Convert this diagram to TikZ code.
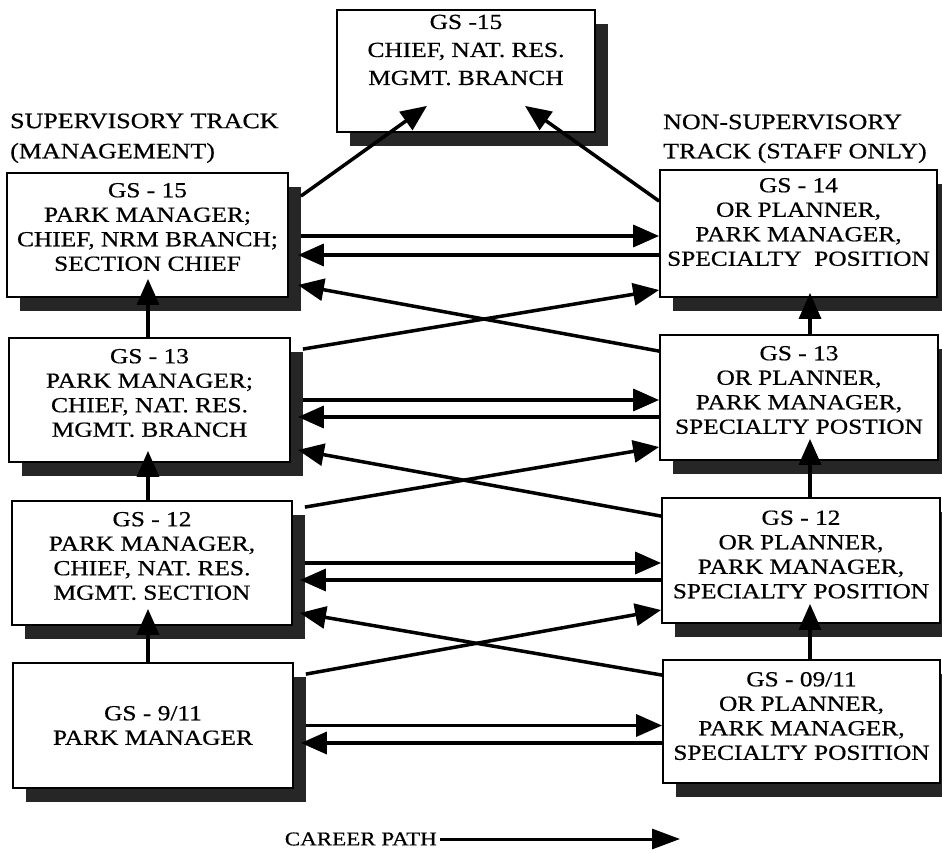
\documentclass[tikz,border=0pt]{standalone}
\usepackage{fontspec}
\setmainfont[FakeStretch=1.18,FakeBold=0.6]{Liberation Serif}
\usetikzlibrary{arrows.meta,calc,shadows}
\begin{document}
\begin{tikzpicture}[x=1pt,y=-1pt,
 box/.style={draw, line width=1.8pt, fill=white, inner sep=0pt,
   drop shadow={shadow xshift=13pt, shadow yshift=-14pt, opacity=1, fill=black!85}},
 txt/.style={align=center, inner sep=0pt, font=\fontsize{21.5}{24.5}\selectfont},
 ttl/.style={anchor=west, inner sep=0pt, font=\fontsize{22}{26}\selectfont},
 arr/.style={line width=3.5pt, -{Triangle[length=26pt,width=22pt]}},
]
\useasboundingbox[fill=white] (0,0) rectangle (942,853);

% titles
\node[ttl] (stitle) at (10,121) {SUPERVISORY TRACK};
\node[ttl] (stitle2) at (10,153) {(MANAGEMENT)};
\node[ttl] (ntitle) at (663,122) {NON-SUPERVISORY};
\node[ttl] (ntitle2) at (663,153) {TRACK (STAFF ONLY)};

% boxes
\node[box, minimum width=258pt, minimum height=122pt] (top) at (466,71) {};
\node[txt, font=\fontsize{21.5}{28}\selectfont] (toptxt) at (466,50) {GS -15\\CHIEF, NAT. RES.\\MGMT. BRANCH};

\node[box, minimum width=281pt, minimum height=124pt] (l15) at (147.5,235) {};
\node[txt] (l15t) at (147.5,227) {GS - 15\\PARK MANAGER;\\CHIEF, NRM BRANCH;\\SECTION CHIEF};
\node[box, minimum width=281pt, minimum height=124pt] (l13) at (149.5,400) {};
\node[txt] (l13t) at (149.5,393) {GS - 13\\PARK MANAGER;\\CHIEF, NAT. RES.\\MGMT. BRANCH};
\node[box, minimum width=280pt, minimum height=124pt] (l12) at (152,563) {};
\node[txt] (l12t) at (152,556) {GS - 12\\PARK MANAGER,\\CHIEF, NAT. RES.\\MGMT. SECTION};
\node[box, minimum width=280pt, minimum height=125pt] (l9) at (153,725.5) {};
\node[txt] (l9t) at (153,725.5) {GS - 9/11\\PARK MANAGER};

\node[box, minimum width=277pt, minimum height=127pt] (r14) at (798.5,233.5) {};
\node[txt] (r14t) at (798.5,222) {GS - 14\\OR PLANNER,\\PARK MANAGER,\\SPECIALTY\ \ POSITION};
\node[box, minimum width=278pt, minimum height=125pt] (r13) at (799,397.5) {};
\node[txt] (r13t) at (799,390) {GS - 13\\OR PLANNER,\\PARK MANAGER,\\SPECIALTY POSTION};
\node[box, minimum width=278pt, minimum height=125pt] (r12) at (801,560.5) {};
\node[txt] (r12t) at (801,554.5) {GS - 12\\OR PLANNER,\\PARK MANAGER,\\SPECIALTY POSITION};
\node[box, minimum width=277pt, minimum height=123pt] (r9) at (801.5,721.5) {};
\node[txt] (r9t) at (801.5,716) {GS - 09/11\\OR PLANNER,\\PARK MANAGER,\\SPECIALTY POSITION};

% to the top box
\draw[arr] ($(l15.north east)+(12,24)$) -- ($(top.south)+(-39,-27)$);
\draw[arr] ($(r14.north west)+(0,32)$) -- ($(top.south)+(59,-27)$);

% level 15/14
\coordinate (h1) at ($(l15.east)+(12,1)$);
\draw[arr] (h1) -- (r14.west |- h1);
\coordinate (h2) at ($(r14.west)+(0,21.5)$);
\draw[arr] (h2) -- ($(l15.east |- h2)+(9,0)$);
\draw[arr] ($(r13.north west)+(0,17)$) -- ($(l15.east)+(9,50)$);
\draw[arr] ($(l13.north east)+(12,12)$) -- ($(r14.west)+(0,56.5)$);

% level 13
\coordinate (h3) at ($(l13.east)+(12,0)$);
\draw[arr] (h3) -- (r13.west |- h3);
\coordinate (h4) at ($(r13.west)+(0,19.5)$);
\draw[arr] (h4) -- ($(l13.east |- h4)+(7,0)$);
\draw[arr] ($(r12.north west)+(0,19)$) -- ($(l13.east)+(7,50)$);
\draw[arr] ($(l12.north east)+(12,7)$) -- ($(r13.west)+(0,49.5)$);

% level 12
\coordinate (h5) at ($(l12.east)+(12,0)$);
\draw[arr] (h5) -- (r12.west |- h5);
\coordinate (h6) at ($(r12.west)+(0,19.5)$);
\draw[arr] (h6) -- ($(l12.east |- h6)+(7,0)$);
\draw[arr] ($(r9.north west)+(0,16)$) -- ($(l12.east)+(7,50)$);
\draw[arr] ($(l9.north east)+(12,12)$) -- ($(r12.west)+(0,49.5)$);

% level 9/11
\coordinate (h7) at ($(l9.east)+(12,0)$);
\draw[arr] (h7) -- (r9.west |- h7);
\coordinate (h8) at ($(r9.west)+(0,21.5)$);
\draw[arr] (h8) -- ($(l9.east |- h8)+(7,0)$);

% verticals left
\draw[arr] ($(l13.north -| l15.south)+(0.5,0)$) -- ($(l15.south)+(0.5,-19)$);
\draw[arr] ($(l12.north -| l15.south)+(0.5,0)$) -- ($(l13.south -| l15.south)+(0.5,-12)$);
\draw[arr] ($(l9.north -| l15.south)+(0.5,0)$) -- ($(l12.south -| l15.south)+(0.5,-17)$);

% verticals right
\draw[arr] ($(r13.north)+(11,0)$) -- ($(r14.south)+(11.5,-5)$);
\draw[arr] ($(r12.north)+(9,0)$) -- ($(r13.south)+(11,-22)$);
\draw[arr] ($(r9.north)+(8.5,0)$) -- ($(r12.south)+(9,-20)$);

% career path
\node[anchor=east, inner sep=0pt, font=\fontsize{19.5}{22}\selectfont] (cp) at (437,839) {CAREER PATH};
\coordinate (cpend) at (680,839);
\draw[line width=3pt, -{Triangle[length=28pt,width=20pt]}] ($(cp.east)+(3,0)$) -- (cpend);
\end{tikzpicture}
\end{document}
